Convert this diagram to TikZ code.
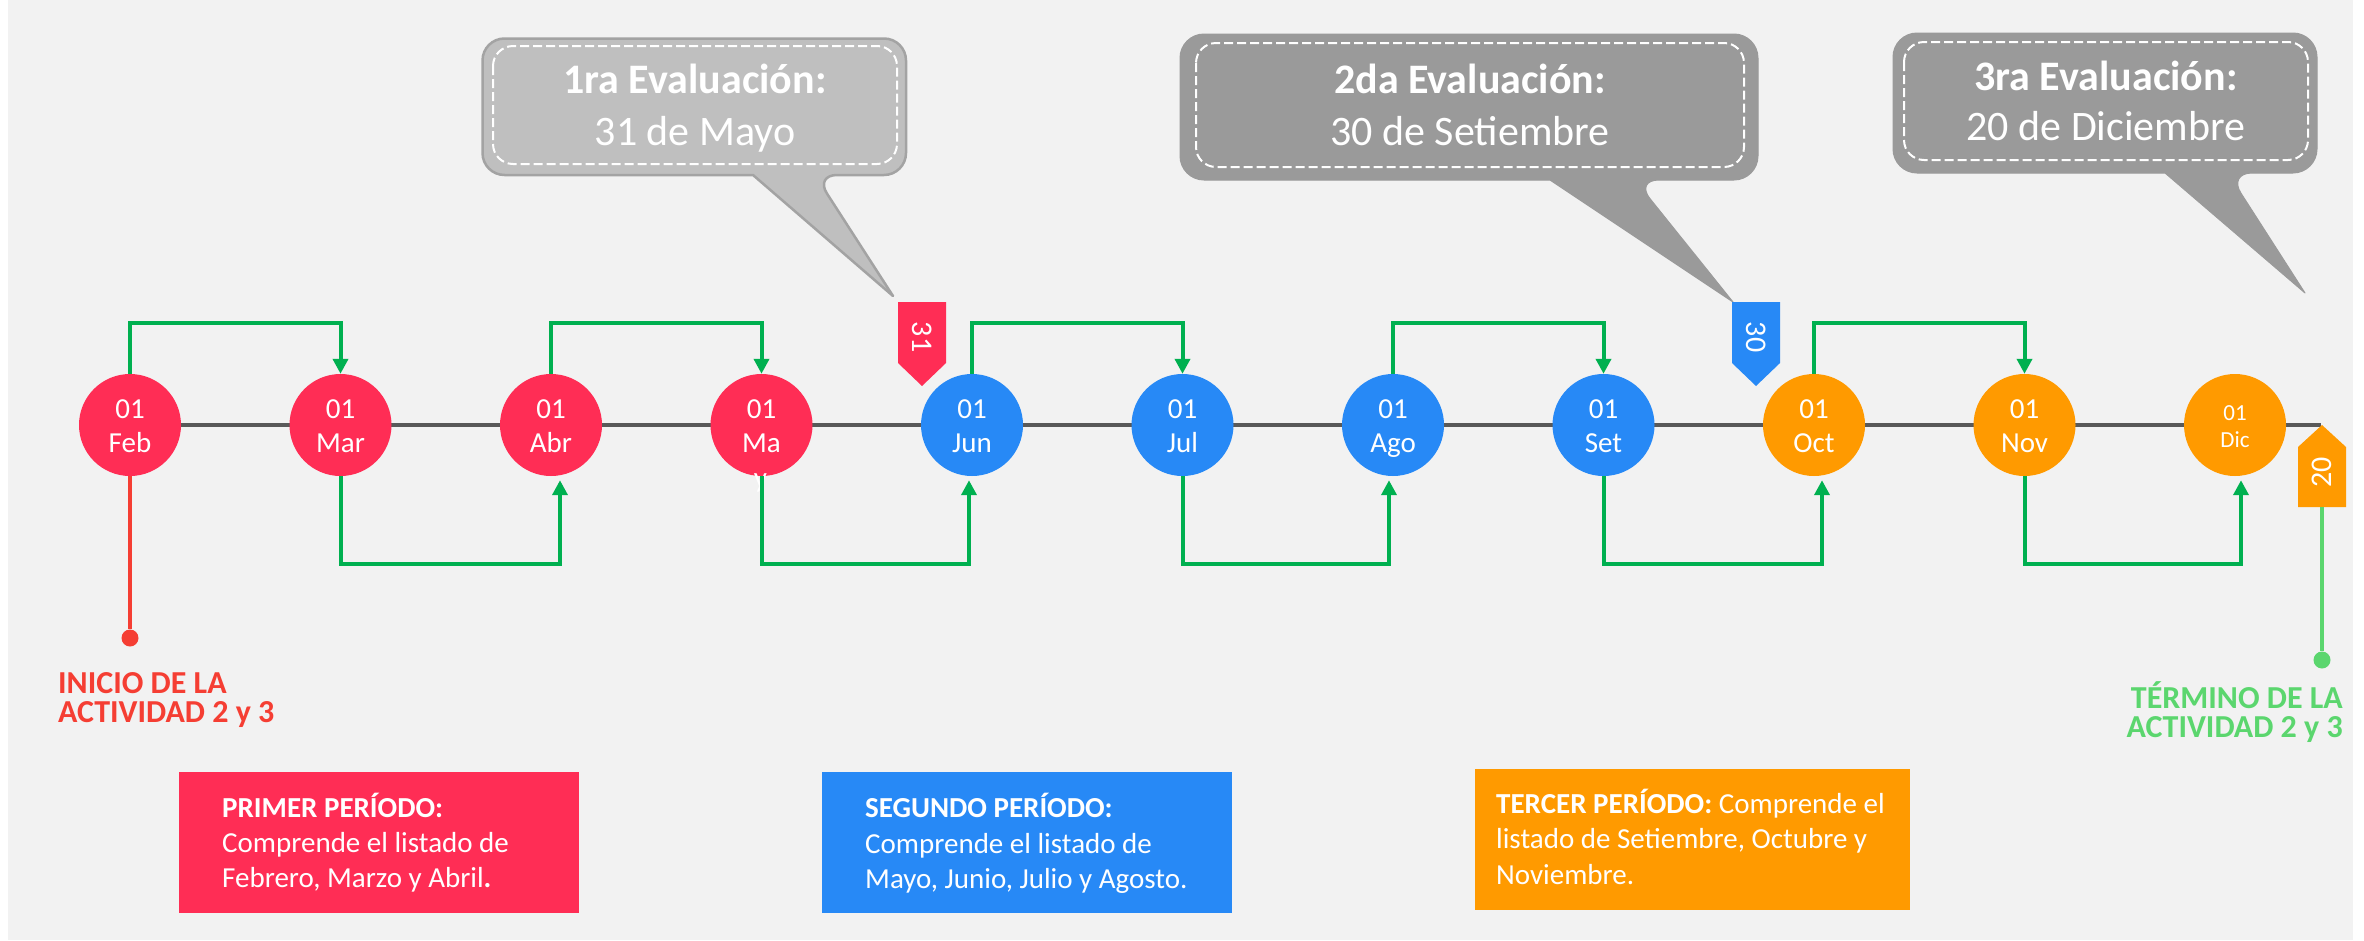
\documentclass[tikz,border=0pt]{standalone}
\usepackage{fontspec}
\setmainfont{Carlito}
\usetikzlibrary{arrows.meta}
\definecolor{cred}{HTML}{FF2D55}
\definecolor{cblue}{HTML}{2789F6}
\definecolor{corange}{HTML}{FF9A00}
\definecolor{cgreen}{HTML}{00B050}
\definecolor{cline}{HTML}{595959}
\definecolor{cstart}{HTML}{F53E33}
\definecolor{cend}{HTML}{5BD66E}
\definecolor{cbg}{HTML}{F2F2F2}
\definecolor{bubA}{HTML}{BFBFBF}
\definecolor{bubAedge}{HTML}{A3A3A3}
\definecolor{bubB}{HTML}{9A9A9A}
\newcommand{\fs}[2]{\fontsize{#1}{#2}\selectfont}
\begin{document}
\begin{tikzpicture}[x=1pt,y=-1pt,
  mcirc/.style={circle, minimum size=102pt, inner sep=0pt, draw=none},
  mtext/.style={text=white, font=\fs{29}{35}, inner sep=0pt, anchor=base},
  stext/.style={text=white, font=\fs{23}{28}, inner sep=0pt, anchor=base},
  conn/.style={draw=cgreen, line width=4pt, -{Triangle[length=15pt,width=15pt]}},
  bubAst/.style={fill=bubA, draw=bubAedge, line width=2.5pt, line join=round},
  bubBst/.style={fill=bubB, draw=bubB, line width=1pt, line join=round},
  dashbox/.style={draw=white, line width=2pt, dash pattern=on 9pt off 4pt, rounded corners=20pt},
  bubt/.style={text=white, font=\bfseries\fs{42}{50}, anchor=base, inner sep=0pt},
  bubd/.style={text=white, font=\fs{42}{50}, anchor=base, inner sep=0pt},
  flagtxt/.style={text=white, font=\fs{30}{36}, inner sep=0pt},
  pbox/.style={draw=none, inner sep=0pt},
  ptext/.style={text=white, font=\fs{29}{35}, inner sep=0pt, anchor=base west},
  endtxt/.style={font=\bfseries\fs{32}{29}, inner sep=0pt},
  dotst/.style={circle, minimum size=17pt, inner sep=0pt, draw=none}
]
% canvas
\fill[white] (0,0) rectangle (2364,940);
\useasboundingbox (0,0) rectangle (2364,940);
\fill[cbg] (8,0) rectangle (2353,940);

% speech bubbles
\path[bubAst] (482.5,106) [rounded corners=22pt] -- (482.5,38.5) -- (906,38.5) -- (906,175) -- (815,175) [sharp corners] -- (893,296) -- (753,175) [rounded corners=22pt] -- (482.5,175) -- cycle;
\draw[dashbox] (493,46) rectangle (897,164);
\node[bubt] (b1t) at (695,93) {1ra Evaluación:};
\node[bubd] (b1d) at (695,145) {31 de Mayo};

\path[bubBst] (1180,107) [rounded corners=24pt] -- (1180,34) -- (1758,34) -- (1758,180) -- (1635,180) [sharp corners] -- (1733,302) -- (1550,180) [rounded corners=24pt] -- (1180,180) -- cycle;
\draw[dashbox] (1196,43) rectangle (1744,167);
\node[bubt] (b2t) at (1470,93) {2da Evaluación:};
\node[bubd] (b2d) at (1470,145) {30 de Setiembre};

\path[bubBst] (1893,103) [rounded corners=24pt] -- (1893,33) -- (2317,33) -- (2317,173) -- (2228,173) [sharp corners] -- (2305,293) -- (2165,173) [rounded corners=24pt] -- (1893,173) -- cycle;
\draw[dashbox] (1904,42) rectangle (2308,160);
\node[bubt] (b3t) at (2106,90) {3ra Evaluación:};
\node[bubd] (b3d) at (2106,140) {20 de Diciembre};

% timeline
\coordinate (tlstart) at (130,425);
\coordinate (tlend) at (2321,425);
\draw[cline, line width=4.5pt] (tlstart) -- (tlend);

% flags
\fill[cred] (898,302) -- (946,302) -- (946,363) -- (922,386) -- (898,363) -- cycle;
\node[flagtxt, rotate=-90] (f31) at (922,337) {31};
\fill[cblue] (1732,302) -- (1780,302) -- (1780,363) -- (1756,386) -- (1732,363) -- cycle;
\node[flagtxt, rotate=-90] (f30) at (1756,337) {30};
\fill[corange] (2298,507) -- (2298,447) -- (2322,425) -- (2346,447) -- (2346,507) -- cycle;
\node[flagtxt, rotate=90] (f20) at (2322,472) {20};

% month circles
\foreach \i/\c in {0/cred,1/cred,2/cred,3/cred,4/cblue,5/cblue,6/cblue,7/cblue,8/corange,9/corange,10/corange}
  \node[mcirc, fill=\c] (m\i) at ({130+210.5*\i},425) {};
\foreach \i/\m in {0/Feb,1/Mar,2/Abr,3/Ma,4/Jun,5/Jul,6/Ago,7/Set,8/Oct,9/Nov}{
  \node[mtext] (d\i) at ({130+210.5*\i},418) {01};
  \node[mtext] (n\i) at ({130+210.5*\i},452) {\m};
}
\node[mtext] (y3) at (760.5,487) {y};
\node[stext] (d10) at (2235,420) {01};
\node[stext] (n10) at (2235,447) {Dic};

% green connectors
\foreach \a/\b in {0/1,2/3,4/5,6/7,8/9}
  \draw[conn] (m\a.north) -- (m\a.north |- 0,323) -| (m\b.north);
\foreach \a/\b/\s in {1/2/9,3/4/-3,5/6/-4,7/8/8,9/10/6}
  \draw[conn, shorten >=4pt] (m\a.south) -- (m\a.south |- 0,564) -| ([xshift=\s pt]m\b.south);

% start / end markers
\node[dotst, fill=cstart] (sdot) at (130,638) {};
\draw[cstart, line width=4pt] (m0.south) -- (sdot);
\coordinate (f20b) at (2322,507);
\node[dotst, fill=cend] (edot) at (2322,660) {};
\draw[cend, line width=4pt] (f20b) -- (edot);

\node[endtxt, text=cstart, anchor=base west] (ini1) at (58,693) {INICIO DE LA};
\node[endtxt, text=cstart, anchor=base west] (ini2) at (58,722) {ACTIVIDAD 2 y 3};

\node[endtxt, text=cend, anchor=base east] (ter1) at (2343,708) {TÉRMINO DE LA};
\node[endtxt, text=cend, anchor=base east] (ter2) at (2343,737) {ACTIVIDAD 2 y 3};

% period boxes
\node[pbox, fill=cred, minimum width=400pt, minimum height=141pt] (p1) at (379,842) {};
\node[ptext] (p1a) at (222,817) {\bfseries PRIMER PERÍODO:};
\node[ptext] (p1b) at (222,852) {Comprende el listado de};
\node[ptext] (p1c) at (222,887) {Febrero, Marzo y Abril\textbf{.}};

\node[pbox, fill=cblue, minimum width=410pt, minimum height=141pt] (p2) at (1027,842.5) {};
\node[ptext] (p2a) at (865,817) {\bfseries SEGUNDO PERÍODO:};
\node[ptext] (p2b) at (865,853) {Comprende el listado de};
\node[ptext] (p2c) at (865,888) {Mayo, Junio, Julio y Agosto.};

\node[pbox, fill=corange, minimum width=435pt, minimum height=141pt] (p3) at (1692.5,839.5) {};
\node[ptext] (p3a) at (1496,813) {\textbf{TERCER PERÍODO:} Comprende el};
\node[ptext] (p3b) at (1496,848) {listado de Setiembre, Octubre y};
\node[ptext] (p3c) at (1496,884) {Noviembre.};
\end{tikzpicture}
\end{document}
